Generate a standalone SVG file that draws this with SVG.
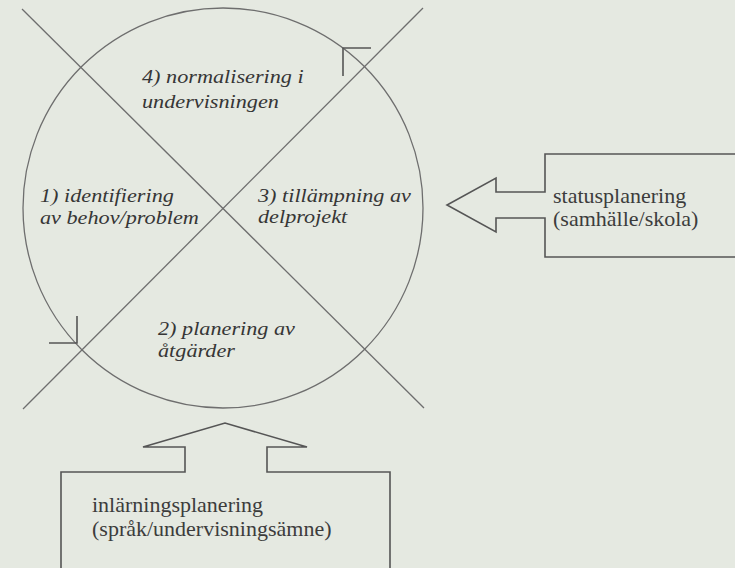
<svg xmlns="http://www.w3.org/2000/svg" width="735" height="568" viewBox="0 0 735 568">
<style>
.thin{fill:none;stroke:#6e6e6e;stroke-width:1.3}
.box{fill:none;stroke:#555;stroke-width:1.6;stroke-linejoin:miter}
.it{font-family:"Liberation Serif","Times New Roman",serif;font-style:italic;font-size:19px;fill:#363636}
.rm{font-family:"Liberation Serif","Times New Roman",serif;font-size:22px;fill:#3c3c3c}
</style>
<rect width="735" height="568" fill="#e5e9e1"/>
<g id="cycle">
<circle class="thin" cx="223" cy="208" r="200"/>
</g>
<g id="connectors">
<line class="thin" x1="22" y1="9" x2="424" y2="408"/>
<line class="thin" x1="423" y1="8" x2="23" y2="409"/>
<path class="box" d="M343,76 V48 H371"/>
<path class="box" d="M49,343 H77 V316"/>
</g>
<g id="q4"><text class="it" transform="translate(142,83) scale(1.17,1)">4) normalisering i<tspan x="0" y="25">undervisningen</tspan></text></g>
<g id="q1"><text class="it" transform="translate(40,202) scale(1.17,1)">1) identifiering<tspan x="0" y="22">av behov/problem</tspan></text></g>
<g id="q3"><text class="it" transform="translate(258,202) scale(1.17,1)">3) tillämpning av<tspan x="0" y="21">delprojekt</tspan></text></g>
<g id="q2"><text class="it" transform="translate(158,335) scale(1.17,1)">2) planering av<tspan x="0" y="22">åtgärder</tspan></text></g>
<g id="statusplanering">
<path class="box" d="M740,154 H545 V192 H496 V178 L447,205 L496,232 V218 H545 V257 H740"/>
<text class="rm" x="553" y="203">statusplanering</text>
<text class="rm" x="553" y="226">(samhälle/skola)</text>
</g>
<g id="inlarningsplanering">
<path class="box" d="M61,572 V472 H185 V447 H143 L225,423 L307,447 H267 V472 H390 V572"/>
<text class="rm" x="92" y="512">inlärningsplanering</text>
<text class="rm" x="92" y="536">(språk/undervisningsämne)</text>
</g>
</svg>
